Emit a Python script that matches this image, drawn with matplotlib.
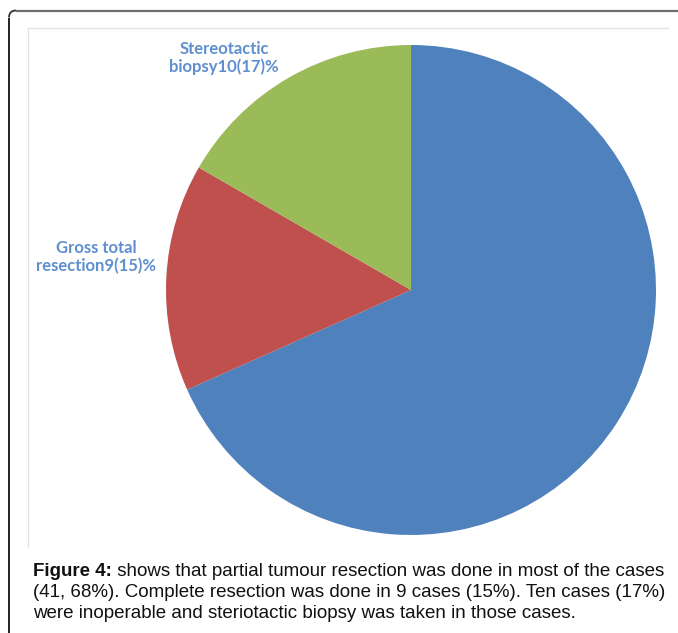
import matplotlib
matplotlib.use("Agg")
import matplotlib.pyplot as plt
from matplotlib.path import Path
from matplotlib.patches import PathPatch

# Surgical management of the cases
categories = ["Partial resection", "Gross total resection", "Stereotactic biopsy"]
cases = [41, 9, 10]
percents = [68, 15, 17]
colors = ["#4F81BD", "#C0504D", "#9BBB59"]
slice_labels = ["", "Gross total\nresection9(15)%", "Stereotactic\nbiopsy10(17)%"]

caption_bold = "Figure 4:"
caption_lines = [
    " shows that partial tumour resection was done in most of the cases",
    "(41, 68%). Complete resection was done in 9 cases (15%). Ten cases (17%)",
    "were inoperable and steriotactic biopsy was taken in those cases.",
]

W, H = 678, 633
fig = plt.figure(figsize=(W / 100, H / 100), dpi=100)
fig.patch.set_facecolor("white")

# Background layer in pixel coordinates for frames and text
bg = fig.add_axes([0, 0, 1, 1])
bg.set_xlim(0, W)
bg.set_ylim(H, 0)
bg.axis("off")

# Outer rounded border (open to the right and bottom)
r = 7
bg.plot([9, 9], [H + 10, 10.5 + r], color="#111111", lw=1.3, solid_capstyle="butt")
arc = Path([(9, 10.5 + r), (9, 10.5), (9 + r, 10.5)],
           [Path.MOVETO, Path.CURVE3, Path.CURVE3])
bg.add_patch(PathPatch(arc, fill=False, edgecolor="#333333", lw=1.3))
bg.plot([9 + r, W + 10], [10.5, 10.5], color="#6E6E6E", lw=1.6, solid_capstyle="butt")

# Light chart-area frame
bg.plot([28, 668], [28, 28], color="#E3E3E3", lw=0.9)
bg.plot([28, 28], [28, 547], color="#E3E3E3", lw=0.9)

# Pie
cx, cy, rad = 411, 290, 245
ax = fig.add_axes([(cx - rad) / W, (H - cy - rad) / H, 2 * rad / W, 2 * rad / H])
ax.pie(cases, colors=colors, startangle=90, counterclock=False,
       wedgeprops=dict(linewidth=0), radius=1)
ax.set_xlim(-1, 1)
ax.set_ylim(-1, 1)
ax.axis("off")

label_color = "#5F8FCF"
label_pos = {1: (96, 257), 2: (224, 58)}
for i, (x, y) in label_pos.items():
    bg.text(x, y, slice_labels[i], ha="center", va="center", color=label_color,
            fontsize=12, fontweight="bold", family="Lato", linespacing=1.15)

# Caption
fig.canvas.draw()
renderer = fig.canvas.get_renderer()
fs = 13.5
x0, base = 33, 576
tb = bg.text(x0, base, caption_bold, fontsize=fs, fontweight="bold",
             family="Liberation Sans", va="baseline", ha="left", color="#111111")
bb = tb.get_window_extent(renderer)
x1 = x0 + bb.width
bg.text(x1, base, caption_lines[0], fontsize=fs, family="Liberation Sans",
        va="baseline", ha="left", color="#111111")
for k, line in enumerate(caption_lines[1:], start=1):
    bg.text(x0, base + 20.8 * k, line, fontsize=fs, family="Liberation Sans",
            va="baseline", ha="left", color="#111111")

fig.savefig("out.png", dpi=100, facecolor="white")
